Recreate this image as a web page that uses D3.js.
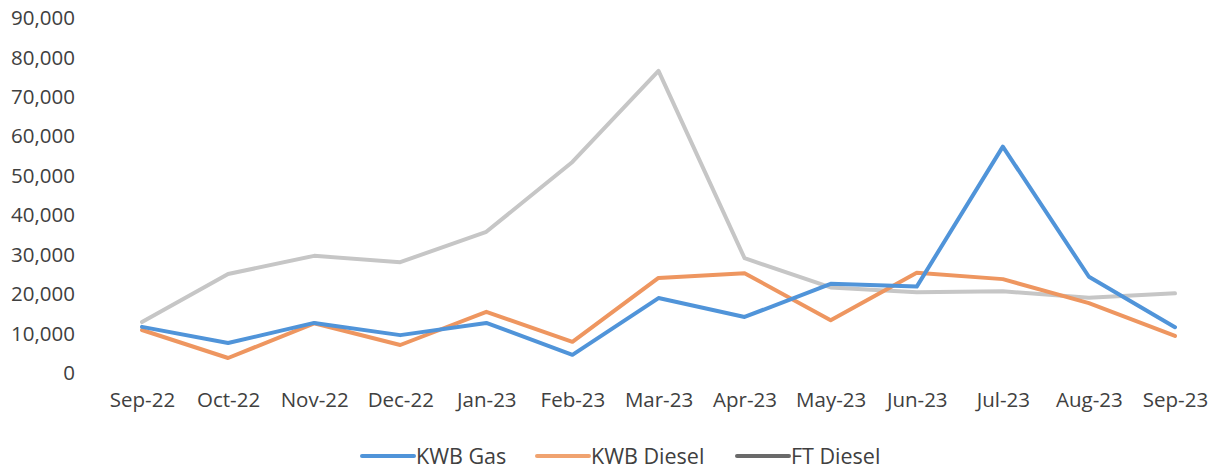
<!DOCTYPE html>
<html>
<head>
<meta charset="utf-8">
<script src="https://cdn.jsdelivr.net/npm/d3@7"></script>
<style>
  body { margin: 0; background: #fff; }
  text { font-family: "Open Sans", sans-serif; fill: #404040; }
</style>
</head>
<body>
<div id="chart"></div>
<script>
const months = ["Sep-22", "Oct-22", "Nov-22", "Dec-22", "Jan-23", "Feb-23", "Mar-23", "Apr-23", "May-23", "Jun-23", "Jul-23", "Aug-23", "Sep-23"]
const kwbGas = [11700, 7600, 12700, 9600, 12700, 4600, 19000, 14200, 22600, 21900, 57400, 24400, 11600]
const kwbDiesel = [10900, 3800, 12600, 7100, 15500, 7900, 24100, 25300, 13400, 25400, 23800, 17700, 9400]
const ftDiesel = [12900, 25100, 29700, 28100, 35800, 53500, 76600, 29100, 21700, 20500, 20700, 19100, 20200]
const yTicks = [0, 10000, 20000, 30000, 40000, 50000, 60000, 70000, 80000, 90000]

const series = [
  { name: "KWB Gas", values: kwbGas, color: "#5094d9", legend: "#5094d9" },
  { name: "KWB Diesel", values: kwbDiesel, color: "#ee9660", legend: "#f0a370" },
  { name: "FT Diesel", values: ftDiesel, color: "#c6c6c6", legend: "#6a6a6a" }
]

const W = 1217, H = 470

let svg = d3.select("#chart").append("svg")
  .attr("width", W).attr("height", H)

let x = d3.scalePoint().domain(months).range([142, 1175])
let y = d3.scaleLinear().domain([0, 90000]).range([373, 18])

// y axis labels only, no gridlines
let yAxis = svg.append("g")
  .attr("transform", "translate(75,0)")
  .call(d3.axisLeft(y).tickValues(yTicks).tickFormat(d3.format(",")).tickSize(0).tickPadding(0))
yAxis.select(".domain").remove()
yAxis.selectAll("text").style("font-size", "20.5px").attr("fill", "#404040")

let xAxis = svg.append("g")
  .attr("transform", "translate(0,392)")
  .call(d3.axisBottom(x).tickSize(0).tickPadding(0))
xAxis.select(".domain").remove()
xAxis.selectAll("text").style("font-size", "20.5px").attr("fill", "#404040")

let line = d3.line()
  .x((d, i) => x(months[i]))
  .y(d => y(d))

// draw gray first so the coloured lines sit on top
;[series[2], series[1], series[0]].forEach(s => {
  svg.append("path")
    .datum(s.values)
    .attr("d", line)
    .attr("fill", "none")
    .attr("stroke", s.color)
    .attr("stroke-width", 4)
    .attr("stroke-linejoin", "round")
    .attr("stroke-linecap", "round")
})

// legend
let legendX = [362, 537, 737]
let legend = svg.append("g")
series.forEach((s, i) => {
  legend.append("line")
    .attr("x1", legendX[i]).attr("x2", legendX[i] + 52)
    .attr("y1", 456).attr("y2", 456)
    .attr("stroke", s.legend).attr("stroke-width", 4)
    .attr("stroke-linecap", "round")
  legend.append("text")
    .attr("x", legendX[i] + 54).attr("y", 456)
    .attr("dy", "0.35em")
    .style("font-size", "21.5px")
    .text(s.name)
})
</script>
</body>
</html>
